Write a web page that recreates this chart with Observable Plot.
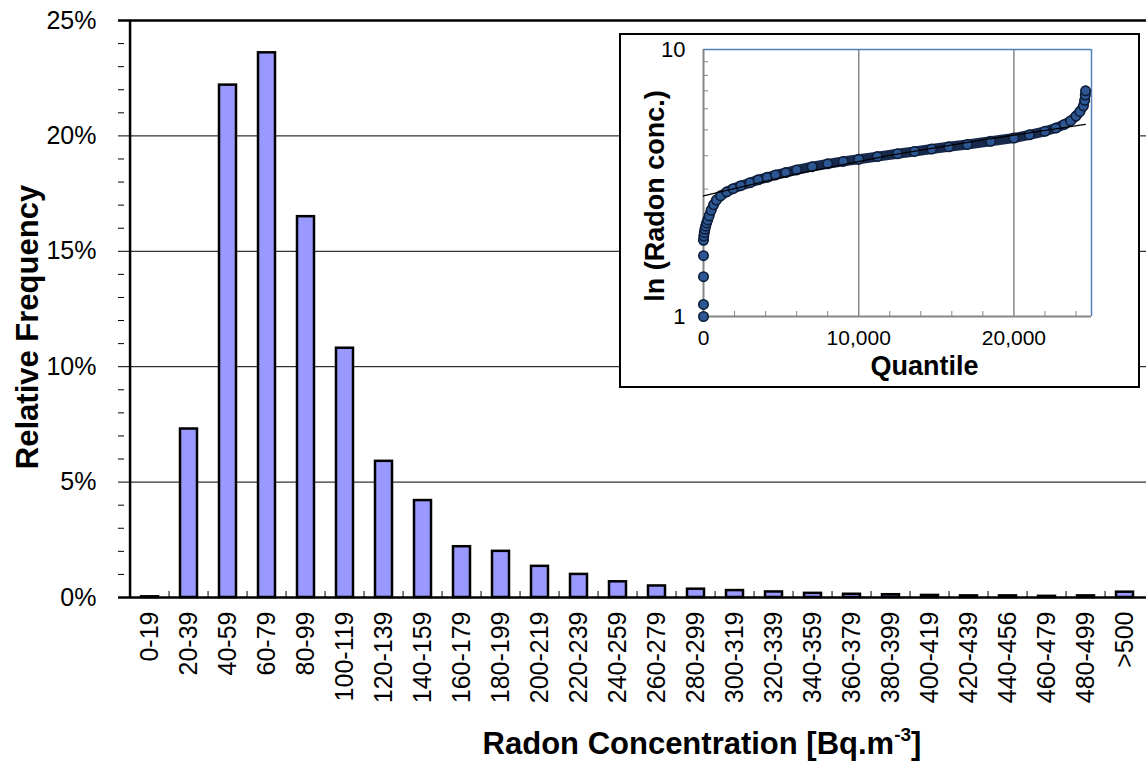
<!DOCTYPE html>
<html><head><meta charset="utf-8">
<script src="https://cdn.jsdelivr.net/npm/d3@7"></script>
<script src="https://cdn.jsdelivr.net/npm/@observablehq/plot@0.6"></script>
<style>
html,body{margin:0;padding:0;background:#fff;overflow:hidden;width:1146px;height:765px}
#wrap{position:relative;width:1146px;height:765px;overflow:hidden;font-family:"Liberation Sans",Arial,sans-serif}
#main{position:absolute;left:0;top:0;width:1160px}
#inset{position:absolute;left:619px;top:33px;width:521px;height:355px;box-sizing:border-box;border:2px solid #000;background:#fff}
#xtitle{position:absolute;top:726px;left:402px;width:600px;text-align:center;font-weight:bold;font-size:31px;line-height:36px;color:#000}
#xtitle sup{font-size:19px;line-height:0;position:relative;top:-2px}
</style></head><body>
<div id="wrap"><div id="main"></div><div id="inset"></div><div id="xtitle">Radon Concentration [Bq.m<sup>-3</sup>]</div></div>
<script>
// ---- main histogram data ----
const categories = ["0-19","20-39","40-59","60-79","80-99","100-119","120-139","140-159","160-179","180-199","200-219","220-239","240-259","260-279","280-299","300-319","320-339","340-359","360-379","380-399","400-419","420-439","440-456","460-479","480-499",">500"];
const frequency = [0.03, 7.3, 22.2, 23.6, 16.5, 10.8, 5.9, 4.2, 2.2, 2.0, 1.35, 1.0, 0.68, 0.5, 0.36, 0.3, 0.24, 0.18, 0.14, 0.12, 0.09, 0.07, 0.07, 0.05, 0.07, 0.23];
const yTickValues = [0, 5, 10, 15, 20, 25];
const yGridValues = [5, 10, 15, 20];
const yMinorValues = [1,2,3,4,6,7,8,9,11,12,13,14,16,17,18,19,21,22,23,24];

// ---- inset (quantile plot) data ----
const quantile = [0,0,0,0,0,20,50,90,140,200,270,360,490,650,830,1100,1500,1900,2400,3000,3520,4100,4640,5300,6000,7000,8000,9000,10000,11200,12500,13600,14700,15800,17000,18500,20000,21000,22000,22700,23250,23650,24000,24250,24480,24560,24600,24620];
const lnConc   = [1.0,1.11,1.41,1.69,1.93,2.0,2.06,2.12,2.18,2.24,2.30,2.38,2.50,2.62,2.73,2.83,2.93,3.01,3.09,3.17,3.25,3.32,3.39,3.46,3.54,3.64,3.73,3.81,3.88,3.97,4.07,4.15,4.24,4.32,4.41,4.53,4.66,4.79,4.94,5.08,5.24,5.40,5.63,5.85,6.15,6.45,6.75,7.0];
const trendQuantile = [0, 6000, 12000, 18000, 24600];
const trendValue = [2.83, 3.42, 4.01, 4.59, 5.24];
const insetXTicks = [0, 10000, 20000];
const insetXGrid = [10000, 20000];
const insetXMinor = [2000,4000,6000,8000,12000,14000,16000,18000,22000,24000];
const insetYTicks = [1, 10];
const insetYMinor = [2,3,4,5,6,7,8,9];

const font = '"Liberation Sans", Arial, sans-serif';

// ---- main chart ----
const W = 1160, H = 765, ML = 118, MR = 5, MT = 20, MB = 168;
const plotW = W - ML - MR, plotH = H - MT - MB;
const step = plotW / categories.length;
const bars = categories.map((c, i) => ({bin: c, pct: frequency[i]}));

const main = Plot.plot({
  width: W, height: H,
  marginLeft: ML, marginRight: MR, marginTop: MT, marginBottom: MB,
  style: {fontFamily: font, background: "white", maxWidth: "none", color: "#000", overflow: "visible"},
  x: {type: "band", domain: categories, paddingInner: 0.57, paddingOuter: 0.285, label: null},
  y: {domain: [0, 25], label: null},
  marks: [
    Plot.ruleY(yGridValues, {stroke: "#000", strokeWidth: 1}),
    Plot.ruleY(yMinorValues, {stroke: "#000", strokeWidth: 1, insetRight: plotW - 6}),
    Plot.ruleX(categories.slice(1), {x: d => d, dx: -step / 2, stroke: "#000", strokeWidth: 1, insetTop: plotH - 6}),
    Plot.barY(bars, {x: "bin", y: "pct", fill: "#9999FF", stroke: "#000", strokeWidth: 2.5}),
    Plot.ruleY([25], {stroke: "#000", strokeWidth: 2.5}),
    Plot.ruleY([0], {stroke: "#000", strokeWidth: 2.5}),
    Plot.ruleX([categories[0]], {x: d => d, dx: -step / 2, stroke: "#000", strokeWidth: 2.5}),
    Plot.axisY(yTickValues, {tickSize: 0, tickPadding: 22, tickFormat: d => d + "%", fontSize: 25, label: null}),
    Plot.axisX({tickSize: 0, tickRotate: -90, tickPadding: 14, fontSize: 25, label: null}),
    Plot.text(["Relative Frequency"], {frameAnchor: "left", textAnchor: "middle", rotate: -90, dx: -90, dy: 18, fontSize: 31, fontWeight: "bold", fill: "#000"})
  ]
});
document.getElementById("main").appendChild(main);

// ---- inset chart ----
const IW = 517, IH = 351, IML = 82, IMR = 47, IMT = 14, IMB = 70;
const ipw = IW - IML - IMR, iph = IH - IMT - IMB;
const pts = quantile.map((q, i) => ({q, v: lnConc[i]}));
const trend = trendQuantile.map((q, i) => ({q, v: trendValue[i]}));

const inset = Plot.plot({
  width: IW, height: IH,
  marginLeft: IML, marginRight: IMR, marginTop: IMT, marginBottom: IMB,
  style: {fontFamily: font, background: "white", maxWidth: "none", color: "#000", overflow: "visible"},
  x: {domain: [0, 25000], label: null},
  y: {type: "log", domain: [1, 10], label: null},
  marks: [
    Plot.ruleX(insetXGrid, {stroke: "#868686", strokeWidth: 1.5}),
    Plot.ruleX(insetXMinor, {stroke: "#868686", strokeWidth: 1, insetTop: iph - 5}),
    Plot.ruleY(insetYMinor, {stroke: "#868686", strokeWidth: 1, insetRight: ipw - 5}),
    Plot.ruleY([10], {stroke: "#4F81BD", strokeWidth: 1.5}),
    Plot.ruleX([25000], {stroke: "#4F81BD", strokeWidth: 1.5}),
    Plot.ruleX([0], {stroke: "#868686", strokeWidth: 2}),
    Plot.ruleY([1], {stroke: "#868686", strokeWidth: 2}),
    Plot.line(pts.filter(d => d.v >= 1.9), {x: "q", y: "v", stroke: "#172a4d", strokeWidth: 10, strokeLinecap: "round"}),
    Plot.dot(pts, {x: "q", y: "v", r: 4.7, fill: "#2d5793", stroke: "#0e1c38", strokeWidth: 1.6}),
    Plot.line(trend, {x: "q", y: "v", stroke: "#000", strokeWidth: 1.3}),
    Plot.axisY(insetYTicks, {tickSize: 0, tickPadding: 18, tickFormat: d => String(d), fontSize: 22, label: null}),
    Plot.axisX(insetXTicks, {tickSize: 0, tickPadding: 14, tickFormat: d3.format(","), fontSize: 21, label: null}),
    Plot.text(["Quantile"], {frameAnchor: "bottom", dx: 27, dy: 58, fontSize: 27, fontWeight: "bold", fill: "#000"}),
    Plot.text(["ln (Radon conc.)"], {frameAnchor: "left", textAnchor: "middle", rotate: -90, dx: -48, dy: 13, fontSize: 27, fontWeight: "bold", fill: "#000"})
  ]
});
document.getElementById("inset").appendChild(inset);
</script>
</body></html>
